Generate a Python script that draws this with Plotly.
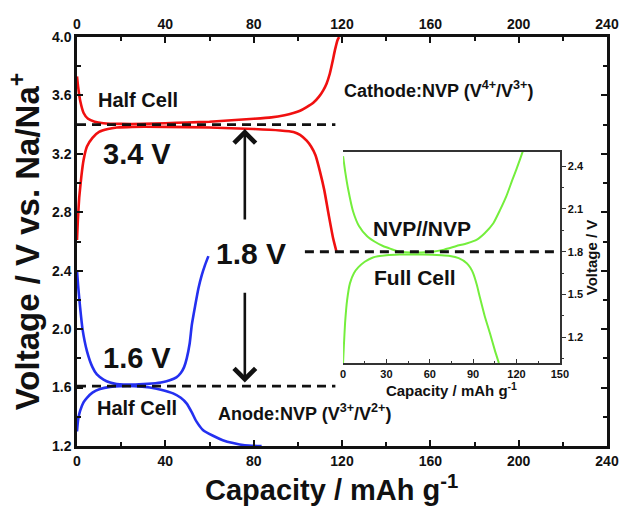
import plotly.graph_objects as go

# ---------------- data ----------------
cathode_charge_cap = [0, 0.5, 1.5, 3, 5, 8, 12, 20, 30, 40, 50, 60, 70, 80, 88, 94, 98, 101, 104, 107, 109.5, 111.5, 113, 114.5, 115.7, 116.8, 118, 118.7]
cathode_charge_v = [3.73, 3.66, 3.56, 3.48, 3.44, 3.42, 3.41, 3.405, 3.405, 3.41, 3.415, 3.42, 3.43, 3.44, 3.45, 3.465, 3.48, 3.495, 3.52, 3.55, 3.59, 3.635, 3.68, 3.75, 3.83, 3.91, 3.98, 4.0]

cathode_dis_cap = [0, 0.4, 1, 2, 3, 4.5, 7, 10, 14, 18, 25, 40, 60, 80, 92, 98, 101, 104, 106, 108, 110, 112, 114, 116, 117.5]
cathode_dis_v = [2.61, 2.75, 2.90, 3.05, 3.16, 3.25, 3.31, 3.35, 3.37, 3.38, 3.385, 3.385, 3.38, 3.37, 3.36, 3.35, 3.33, 3.29, 3.25, 3.19, 3.08, 2.95, 2.78, 2.62, 2.53]

anode_charge_cap = [0, 0.5, 1.4, 2.5, 4.5, 7, 9, 12, 15, 18, 25, 32, 38, 42, 45, 47, 48.5, 49.7, 51, 52, 53.5, 55, 56.5, 58, 59.5]
anode_charge_v = [2.40, 2.30, 2.15, 2.00, 1.85, 1.74, 1.69, 1.655, 1.635, 1.625, 1.62, 1.625, 1.635, 1.65, 1.67, 1.70, 1.74, 1.80, 1.90, 2.03, 2.16, 2.28, 2.37, 2.44, 2.50]

anode_dis_cap = [0, 0.5, 1.4, 3, 4.5, 7, 10.4, 15, 19.5, 26, 33, 38, 43.5, 47, 49.7, 52, 54, 57, 61.6, 66, 70.7, 76, 83.6]
anode_dis_v = [1.30, 1.38, 1.44, 1.50, 1.53, 1.565, 1.59, 1.605, 1.61, 1.61, 1.60, 1.585, 1.56, 1.53, 1.49, 1.43, 1.37, 1.31, 1.27, 1.24, 1.22, 1.205, 1.20]

full_charge_cap = [0, 1.5, 3.5, 7, 11, 16.5, 22, 27.6, 33, 39, 50, 62, 70, 78.5, 86, 92.6, 98, 104, 108.5, 113, 117, 120, 122.5, 124.4]
full_charge_v = [2.47, 2.36, 2.24, 2.08, 1.98, 1.91, 1.87, 1.84, 1.82, 1.80, 1.795, 1.80, 1.815, 1.84, 1.86, 1.885, 1.93, 2.00, 2.09, 2.19, 2.30, 2.38, 2.45, 2.505]

full_dis_cap = [0, 0.6, 1.4, 2.8, 4.8, 7.5, 10.5, 15, 20.7, 30, 39, 55, 68, 74, 80, 85.6, 88, 90, 92.5, 94.7, 98, 101.6, 105, 107.8]
full_dis_v = [1.02, 1.15, 1.30, 1.46, 1.58, 1.65, 1.69, 1.73, 1.76, 1.775, 1.78, 1.78, 1.775, 1.77, 1.755, 1.72, 1.69, 1.65, 1.57, 1.48, 1.35, 1.23, 1.11, 1.02]

half_cell_plateaus = [3.40, 1.61]      # V vs Na/Na+
plateau_cap_span = [0, 117]            # mAh/g
full_cell_plateau = 1.8                # V
main_ticks = [0, 40, 80, 120, 160, 200, 240]
inset_ticks = [0, 30, 60, 90, 120, 150]

# ---------------- style ----------------
FONT = "Liberation Sans, Arial, sans-serif"
RED = "#f01010"
BLUE = "#2430f0"
GREEN = "#74ee3c"
BLACK = "#111111"

fig = go.Figure()

for xs, ys, col in [(cathode_charge_cap, cathode_charge_v, RED), (cathode_dis_cap, cathode_dis_v, RED),
                    (anode_charge_cap, anode_charge_v, BLUE), (anode_dis_cap, anode_dis_v, BLUE)]:
    fig.add_trace(go.Scatter(x=xs, y=ys, mode="lines", line=dict(color=col, width=2.6, shape="spline", smoothing=0.5),
                             xaxis="x", yaxis="y", showlegend=False, hoverinfo="skip"))

for v in half_cell_plateaus:
    fig.add_trace(go.Scatter(x=plateau_cap_span, y=[v, v], mode="lines",
                             line=dict(color=BLACK, width=2.8, dash="9px,6px"),
                             xaxis="x", yaxis="y", showlegend=False, hoverinfo="skip"))

for xs, ys in [(full_charge_cap, full_charge_v), (full_dis_cap, full_dis_v)]:
    fig.add_trace(go.Scatter(x=xs, y=ys, mode="lines", line=dict(color=GREEN, width=2, shape="spline", smoothing=0.5),
                             xaxis="x2", yaxis="y2", showlegend=False, hoverinfo="skip", cliponaxis=False))

# dummy trace for top axis
fig.add_trace(go.Scatter(x=[0, 240], y=[None, None], xaxis="x3", yaxis="y", showlegend=False, hoverinfo="skip"))

fig.add_shape(type="line", xref="paper", yref="y2", x0=0.43, x1=0.911,
              y0=full_cell_plateau, y1=full_cell_plateau,
              line=dict(color=BLACK, width=2.8, dash="9px,6px"))

tickfont = dict(family=FONT, size=14, color=BLACK, weight="bold")
minor_main = dict(ticks="inside", ticklen=4, tickwidth=2, tickcolor=BLACK)
axis_common = dict(showline=True, linewidth=2.5, linecolor=BLACK, ticks="inside", ticklen=6, tickwidth=2,
                   tickcolor=BLACK, showgrid=False, zeroline=False, tickfont=tickfont, automargin=False)

fig.update_layout(
    width=621, height=506,
    margin=dict(l=77, r=14, t=37, b=60),
    paper_bgcolor="white", plot_bgcolor="rgba(0,0,0,0)",
    xaxis=dict(range=[0, 240], tickvals=main_ticks, minor=dict(dtick=20, **minor_main),
               anchor="y", **axis_common),
    xaxis3=dict(range=[0, 240], tickvals=main_ticks, overlaying="x", side="top", anchor="y",
                minor=dict(dtick=20, **minor_main), **axis_common),
    yaxis=dict(range=[1.2, 4.0], dtick=0.4, tick0=1.2, tickformat=".1f", mirror="ticks",
               minor=dict(dtick=0.2, **minor_main),
               title=dict(text="Voltage / V vs. Na/Na<sup>+</sup>", font=dict(family=FONT, size=33, color=BLACK, weight="bold"), standoff=3),
               **axis_common),
    xaxis2=dict(domain=[0.502, 0.911], range=[0, 150], anchor="y2", tickvals=inset_ticks, automargin=False,
                showline=True, linewidth=1.5, linecolor="#333333", mirror=True, ticks="inside", ticklen=4,
                tickcolor="#333333", minor=dict(dtick=15, ticks="inside", ticklen=2, tickcolor="#333333"),
                showgrid=False, zeroline=False,
                tickfont=dict(family=FONT, size=11, color=BLACK, weight="bold"),
                title=dict(text="Capacity / mAh g<sup>-1</sup>", font=dict(family=FONT, size=15, color=BLACK, weight="bold"), standoff=0)),
    yaxis2=dict(domain=[0.203, 0.719], range=[1.02, 2.5], anchor="x2", side="right", dtick=0.3, tick0=1.2, automargin=False,
                tickformat=".1f", showline=True, linewidth=1.5, linecolor="#333333", ticks="outside", ticklen=4,
                tickcolor="#333333", minor=dict(dtick=0.15, ticks="outside", ticklen=2, tickcolor="#333333"),
                showgrid=False, zeroline=False,
                tickfont=dict(family=FONT, size=11, color=BLACK, weight="bold"),
                title=dict(text="Voltage / V", font=dict(family=FONT, size=15, color=BLACK, weight="bold"), standoff=2)),
)

# main x-axis title (placed slightly left of centre, as in the original)
fig.add_annotation(text="Capacity / mAh g<sup>-1</sup>", xref="paper", yref="paper", x=0.481, y=-0.103,
                   xanchor="center", yanchor="middle", showarrow=False,
                   font=dict(family=FONT, size=29, color=BLACK, weight="bold"))

def label(text, x, y, size, xref="x", yref="y"):
    fig.add_annotation(text=text, x=x, y=y, xref=xref, yref=yref, showarrow=False,
                       font=dict(family=FONT, size=size, color=BLACK, weight="bold"))

label("Half Cell", 27.6, 3.57, 20)
label("3.4 V", 27, 3.20, 29)
label("1.8 V", 79, 2.52, 30)
label("1.6 V", 27, 1.80, 29)
label("Half Cell", 27, 1.46, 20)
label("Cathode:NVP (V<sup>4+</sup>/V<sup>3+</sup>)", 163.5, 3.64, 18)
label("Anode:NVP (V<sup>3+</sup>/V<sup>2+</sup>)", 103, 1.43, 18)
label("NVP//NVP", 54.6, 1.96, 21, "x2", "y2")
label("Full Cell", 49.8, 1.62, 21, "x2", "y2")

# arrows
fig.add_annotation(x=76, y=3.37, ax=76, ay=2.74, xref="x", yref="y", axref="x", ayref="y", text="",
                   showarrow=True, arrowhead=4, arrowsize=1.6, arrowwidth=2.6, arrowcolor=BLACK)
fig.add_annotation(x=76, y=1.635, ax=76, ay=2.26, xref="x", yref="y", axref="x", ayref="y", text="",
                   showarrow=True, arrowhead=4, arrowsize=1.6, arrowwidth=2.6, arrowcolor=BLACK)

fig.write_html("out.html", config={"displayModeBar": False},
               post_script="document.body.style.margin='0px';document.body.style.overflow='hidden';")
